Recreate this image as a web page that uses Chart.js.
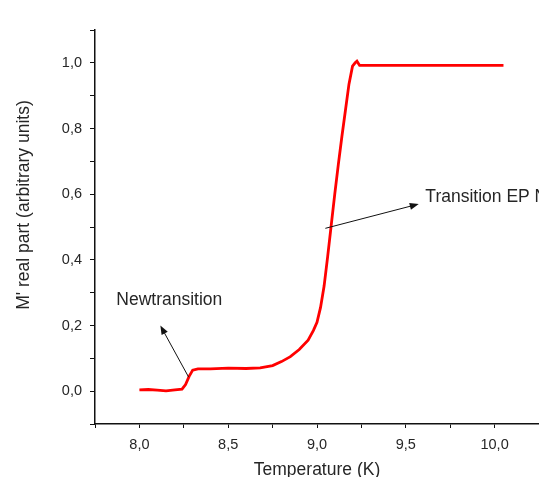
<!DOCTYPE html>
<html>
<head>
<meta charset="utf-8">
<script src="https://cdn.jsdelivr.net/npm/chart.js@4.4.1/dist/chart.umd.min.js"></script>
<style>
html,body{margin:0;padding:0;background:#fff;}
#wrap{width:539px;height:477px;position:relative;}
</style>
</head>
<body>
<div id="wrap"><canvas id="cM"></canvas></div>
<script>
/* M' real part vs temperature, two transitions marked */
const temps=[8.00,8.05,8.10,8.15,8.20,8.24,8.26,8.28,8.30,8.33,8.40,8.50,8.60,8.68,8.75,8.80,8.85,8.90,8.95,8.98,9.00,9.02,9.04,9.06,9.08,9.10,9.12,9.14,9.16,9.18,9.20,9.215,9.225,9.24,9.50,10.05];
const mReal=[0.004,0.005,0.003,0.001,0.004,0.006,0.020,0.045,0.064,0.068,0.068,0.070,0.069,0.071,0.078,0.090,0.105,0.127,0.155,0.185,0.210,0.255,0.320,0.410,0.505,0.600,0.690,0.775,0.855,0.935,0.990,1.000,1.005,0.992,0.992,0.992];
// annotation arrows: [tailX,tailY,headX,headY] in data units
const arrows=[[8.277,0.043,8.118,0.200],[9.047,0.496,9.573,0.570]];
const notes=[{t:'Newtransition',x:7.87,y:0.278},{t:'Transition EP Nb',x:9.61,y:0.590}];
const xMin=7.75,xMax=10.25,yMin=-0.1,yMax=1.1;
const yTitle="M' real part (arbitrary units)";

const FONT="'Liberation Sans',Arial,sans-serif";
const ink='#262626';
const comma=v=>v.toFixed(1).replace('.',',');

const notesPlugin={id:'notes',afterDatasetsDraw(ch){
  const c=ch.ctx,sx=ch.scales.x,sy=ch.scales.y;
  c.save();
  c.strokeStyle='#111';c.fillStyle='#111';c.lineWidth=1;
  arrows.forEach(([x0,y0,x1,y1])=>{
    const ax=sx.getPixelForValue(x0),ay=sy.getPixelForValue(y0),bx=sx.getPixelForValue(x1),by=sy.getPixelForValue(y1);
    const a=Math.atan2(by-ay,bx-ax),L=9,W=3.5;
    c.beginPath();c.moveTo(ax,ay);c.lineTo(bx-Math.cos(a)*L*0.6,by-Math.sin(a)*L*0.6);c.stroke();
    c.beginPath();c.moveTo(bx,by);
    c.lineTo(bx-Math.cos(a)*L+Math.sin(a)*W,by-Math.sin(a)*L-Math.cos(a)*W);
    c.lineTo(bx-Math.cos(a)*L-Math.sin(a)*W,by-Math.sin(a)*L+Math.cos(a)*W);
    c.closePath();c.fill();
  });
  c.font='17.5px '+FONT;c.fillStyle=ink;c.textBaseline='middle';c.textAlign='left';
  notes.forEach(n=>c.fillText(n.t,sx.getPixelForValue(n.x),sy.getPixelForValue(n.y)));
  // y title sits a bit above the axis middle, so it is drawn here
  c.translate(24,205);c.rotate(-Math.PI/2);c.textAlign='center';
  c.fillText(yTitle,0,0);
  c.restore();
}};

new Chart(document.getElementById('cM'),{
  type:'line',
  data:{datasets:[{label:"M'",data:temps.map((t,i)=>({x:t,y:mReal[i]})),borderColor:'#ff0000',borderWidth:2.8,pointRadius:0,tension:0,fill:false}]},
  options:{
    responsive:true,maintainAspectRatio:false,animation:false,
    layout:{padding:{top:30,right:0,left:0,bottom:0}},
    plugins:{legend:{display:false},tooltip:{enabled:false}},
    scales:{
      x:{type:'linear',min:xMin,max:xMax,
        afterFit:s=>{s.height=53;s.paddingRight=0;s.paddingLeft=0;},
        border:{color:'#111',width:1.5},
        grid:{drawOnChartArea:false,tickLength:4,tickColor:'#111'},
        ticks:{stepSize:0.25,autoSkip:false,maxRotation:0,padding:8,color:ink,font:{family:FONT,size:14.5},
          callback:v=>Math.round(v*4)%2===0&&v>=8&&v<=10?comma(v):''},
        title:{display:true,text:'Temperature (K)',color:ink,font:{family:FONT,size:17.5,lineHeight:1},padding:{top:0,bottom:-2}}},
      y:{min:yMin,max:yMax,
        afterFit:s=>{s.width=95;},
        border:{color:'#111',width:1.5},
        grid:{drawOnChartArea:false,tickLength:5,tickColor:'#111'},
        ticks:{stepSize:0.1,autoSkip:false,padding:8,color:ink,font:{family:FONT,size:14.5},
          callback:v=>Math.round(v*10)%2===0&&v>=-0.01&&v<=1.01?comma(Math.abs(v)<1e-9?0:v):''},
        title:{display:false}}
    }
  },
  plugins:[notesPlugin]
});
</script>
</body>
</html>
